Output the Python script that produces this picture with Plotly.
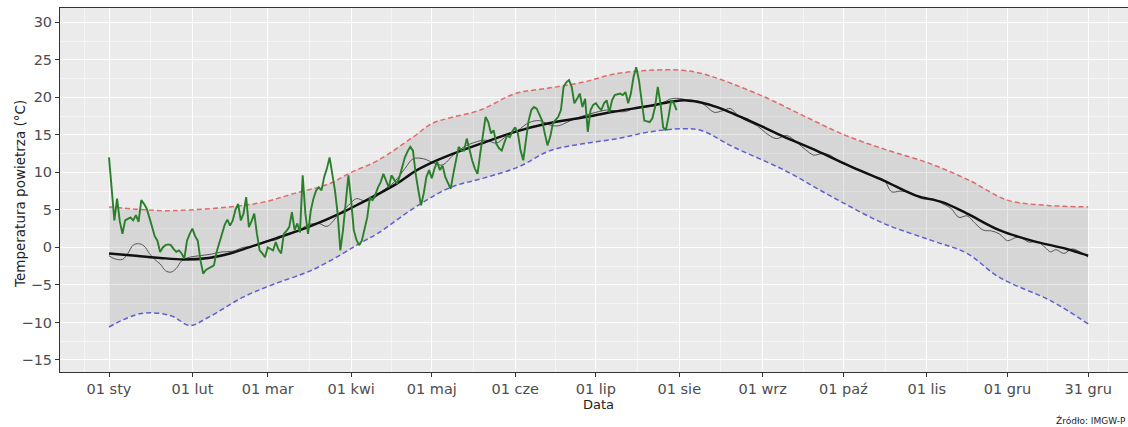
import pandas as pd
import plotly.graph_objects as go

YEAR_START = pd.Timestamp("2025-01-01")

# ---- data (day index from 1 Jan, value in °C) ----
green_days = list(range(0, 212))
green_vals = [12.0, 7.5, 3.6, 6.5, 3.5, 1.8, 3.6, 3.8, 4.0, 3.6, 4.3, 3.4, 6.3, 5.8, 5.2, 4.0, 2.7, 1.5, 0.9, -0.6,
              0.0, 0.3, 0.4, 0.3, -0.2, -0.6, -0.4, -0.8, -1.5, 0.9, 1.8, 2.5, 1.5, 0.9, -1.7, -3.5, -3.0, -2.8, -2.6, -2.4,
              -0.6, 0.8, 1.8, 3.0, 3.7, 2.9, 3.6, 5.0, 5.8, 3.6, 4.5, 6.7, 2.7, 3.5, 4.5, 1.8, -0.4, -0.8, -1.3, 0.0,
              -0.2, -0.4, 0.7, -0.3, -0.8, 1.8, 2.2, 2.7, 4.7, 2.3, 3.2, 2.0, 9.6, 4.5, 1.8, 4.9, 6.5, 7.6, 8.0, 7.6,
              9.4, 10.5, 12.0, 9.8, 7.6, 4.5, -0.4, 2.3, 6.3, 9.6, 6.3, 2.3, 1.0, 0.3, 0.9, 2.5, 4.0, 6.7, 6.3, 7.0,
              8.0, 8.7, 9.8, 8.9, 8.0, 9.6, 9.0, 8.5, 9.4, 10.7, 12.0, 12.8, 13.4, 12.9, 9.8, 7.6, 5.6, 7.2, 9.4, 10.3,
              9.2, 10.5, 11.4, 10.3, 10.9, 9.4, 8.5, 7.8, 9.8, 11.6, 13.4, 12.9, 12.9, 14.5, 12.9, 11.6, 10.5, 9.8, 12.5, 15.2,
              17.4, 16.7, 15.2, 15.6, 13.8, 13.2, 12.9, 14.0, 14.9, 14.7, 15.5, 16.0, 15.2, 12.9, 11.6, 14.3, 16.9, 18.3, 18.7, 18.5,
              17.6, 16.9, 15.2, 13.6, 14.7, 16.5, 17.0, 17.4, 18.3, 21.4, 22.0, 22.3, 21.4, 19.2, 19.8, 20.5, 18.7, 19.8, 15.4, 18.3,
              19.0, 19.2, 18.7, 18.3, 19.2, 19.6, 18.0, 19.6, 20.3, 20.4, 20.5, 20.3, 20.7, 19.2, 20.5, 22.7, 24.0, 22.3, 19.6, 16.9,
              16.8, 16.7, 17.2, 18.7, 21.4, 19.2, 16.0, 15.6, 17.4, 19.6, 19.2, 18.3]

grey_days = [0, 2, 5, 7, 9, 11, 13, 15, 17, 19, 21, 23, 25, 27, 30, 34, 38, 42, 46, 50, 54, 58, 62, 66, 70, 74, 78, 81,
             85, 89, 92, 95, 98, 102, 106, 110, 113, 117, 121, 124, 128, 132, 136, 140, 144, 148, 152, 156, 160, 164,
             167, 171, 176, 181, 185, 189, 192, 195, 199, 203, 206, 209, 213, 216, 219, 222, 225, 228, 231, 234, 238,
             241, 244, 248, 252, 256, 259, 262, 265, 268, 272, 276, 280, 284, 288, 291, 294, 298, 302, 306, 310, 313,
             316, 319, 322, 325, 328, 331, 334, 337, 339, 342, 345, 348, 350, 352, 355, 358, 361, 364]
grey_vals = [-1.1, -1.5, -1.6, -0.8, 0.3, 0.5, 0.2, -0.8, -1.6, -2.2, -3.1, -3.3, -2.8, -1.8, -1.3, -1.1, -0.9, -0.6,
             -0.5, 0.0, 0.2, 0.8, 1.0, 1.8, 2.2, 3.0, 3.2, 2.8, 4.2, 5.6, 6.5, 6.2, 6.4, 7.6, 8.7, 10.5, 11.8, 11.8,
             11.2, 11.0, 12.3, 13.4, 14.0, 14.3, 13.9, 14.9, 15.6, 16.6, 16.9, 16.3, 16.2, 16.8, 17.5, 18.0, 18.3,
             18.1, 18.1, 18.5, 18.7, 18.9, 19.3, 19.8, 19.8, 19.4, 19.5, 18.8, 18.0, 18.2, 18.5, 17.5, 16.7, 16.2,
             15.3, 14.5, 14.9, 13.9, 13.0, 12.3, 12.5, 12.3, 11.3, 10.8, 10.2, 9.5, 9.0, 7.4, 7.5, 7.3, 6.5, 6.5,
             5.8, 5.2, 4.0, 4.2, 3.2, 2.3, 2.2, 1.8, 0.9, 1.3, 1.3, 0.7, 0.8, 0.0, -0.6, -0.3, -0.8, -0.2, -0.6, -1.3]

mean_days = [0, 10, 19, 28, 37, 45, 52, 62, 74, 87, 93, 100, 107, 114, 120, 128, 138, 151, 163, 176, 188, 200,
             209, 214, 220, 226, 238, 250, 263, 275, 288, 300, 310, 319, 331, 343, 356, 364]
mean_vals = [-0.8, -1.1, -1.4, -1.6, -1.4, -0.8, 0.0, 1.2, 2.7, 4.7, 5.8, 7.1, 8.5, 10.2, 11.3, 12.5, 13.8, 15.4,
             16.5, 17.3, 18.1, 18.8, 19.4, 19.6, 19.3, 18.7, 16.9, 14.9, 12.9, 10.9, 8.9, 6.9, 6.0, 4.5, 2.3, 0.9,
             -0.2, -1.1]

max_days = [0, 10, 20, 30, 45, 57, 69, 82, 90, 100, 113, 120, 126, 138, 151, 163, 176, 188, 201, 213, 220, 228,
            244, 259, 274, 289, 305, 320, 334, 349, 364]
max_vals = [5.4, 5.1, 4.9, 5.0, 5.4, 6.0, 7.2, 8.5, 10.0, 11.6, 14.7, 16.5, 17.2, 18.3, 20.5, 21.2, 22.0, 23.1,
            23.6, 23.6, 23.2, 22.3, 20.0, 17.4, 14.9, 13.0, 11.2, 8.9, 6.3, 5.6, 5.4]

min_days = [0, 12, 23, 30, 37, 50, 62, 75, 87, 93, 100, 114, 127, 139, 152, 164, 176, 189, 201, 213, 220, 232,
            251, 269, 288, 306, 319, 331, 350, 364]
min_vals = [-10.6, -8.8, -9.1, -10.4, -9.3, -6.6, -4.8, -3.1, -0.8, 0.5, 1.9, 5.4, 8.0, 9.2, 10.7, 12.9, 13.8,
            14.5, 15.4, 15.8, 15.6, 13.4, 10.3, 6.7, 3.2, 0.9, -0.8, -4.0, -7.1, -10.2]

tick_dates = ["2025-01-01", "2025-02-01", "2025-03-01", "2025-04-01", "2025-05-01", "2025-06-01", "2025-07-01",
              "2025-08-01", "2025-09-01", "2025-10-01", "2025-11-01", "2025-12-01", "2025-12-31"]
tick_labels = ["01 sty", "01 lut", "01 mar", "01 kwi", "01 maj", "01 cze", "01 lip", "01 sie", "01 wrz",
               "01 paź", "01 lis", "01 gru", "31 gru"]


def to_dates(days):
    return [YEAR_START + pd.Timedelta(days=d) for d in days]


fig = go.Figure()

# ribbon between min and max
fig.add_trace(go.Scatter(x=to_dates(min_days), y=min_vals, mode="lines", line=dict(width=0, shape="spline"),
                         hoverinfo="skip", showlegend=False))
fig.add_trace(go.Scatter(x=to_dates(max_days), y=max_vals, mode="lines", line=dict(width=0, shape="spline"),
                         fill="tonexty", fillcolor="rgba(130,130,130,0.19)", hoverinfo="skip", showlegend=False))
# dashed bounds
fig.add_trace(go.Scatter(x=to_dates(max_days), y=max_vals, mode="lines",
                         line=dict(color="#E06A6A", width=1.5, dash="5px,3px", shape="spline"), showlegend=False))
fig.add_trace(go.Scatter(x=to_dates(min_days), y=min_vals, mode="lines",
                         line=dict(color="#5F5FD0", width=1.5, dash="5px,3px", shape="spline"), showlegend=False))
# daily climatology
fig.add_trace(go.Scatter(x=to_dates(grey_days), y=grey_vals, mode="lines",
                         line=dict(color="#555555", width=1, shape="spline"), showlegend=False))
# smoothed mean
fig.add_trace(go.Scatter(x=to_dates(mean_days), y=mean_vals, mode="lines",
                         line=dict(color="#111111", width=2.5, shape="spline"), showlegend=False))
# current year
fig.add_trace(go.Scatter(x=to_dates(green_days), y=green_vals, mode="lines",
                         line=dict(color="#2A7F2A", width=1.9), showlegend=False))

W, H = 1128, 427
ml, mt, mb = 60, 8, 55
px_per_day = 2.69
x0 = YEAR_START - pd.Timedelta(days=(109 - ml) / px_per_day)
x1 = YEAR_START + pd.Timedelta(days=(W - 109) / px_per_day)

tick_ts = [pd.Timestamp(t) for t in tick_dates]
minor_ts = [tick_ts[i] + (tick_ts[i + 1] - tick_ts[i]) / 2 for i in range(len(tick_ts) - 1)]
minor_ts = [x0 + (tick_ts[0] - x0) / 2] + minor_ts + [tick_ts[-1] + (x1 - tick_ts[-1]) / 2]

fig.update_layout(
    width=W, height=H,
    margin=dict(l=ml, r=0, t=mt, b=mb),
    paper_bgcolor="white",
    plot_bgcolor="#EBEBEB",
    font=dict(family="DejaVu Sans", color="#4D4D4D"),
    xaxis=dict(
        range=[x0, x1], tickmode="array", tickvals=tick_ts, ticktext=tick_labels,
        showgrid=True, gridcolor="white", gridwidth=1.1, zeroline=False,
        ticks="outside", ticklen=4, tickcolor="#333333", tickfont=dict(size=14.5, color="#4D4D4D"),
        showline=True, linecolor="#333333", linewidth=1, mirror=True,
        minor=dict(tickmode="array", tickvals=minor_ts, showgrid=True, gridcolor="#F5F5F5", gridwidth=0.6, ticks=""),
    ),
    yaxis=dict(
        range=[-16.6, 31.9], tickmode="array", tickvals=[-15, -10, -5, 0, 5, 10, 15, 20, 25, 30],
        showgrid=True, gridcolor="white", gridwidth=1.1, zeroline=False,
        ticks="outside", ticklen=4, tickcolor="#333333", tickfont=dict(size=14.5, color="#4D4D4D"),
        showline=True, linecolor="#333333", linewidth=1, mirror=False,
        minor=dict(tickmode="array", tickvals=[-12.5, -7.5, -2.5, 2.5, 7.5, 12.5, 17.5, 22.5, 27.5],
                   showgrid=True, gridcolor="#F5F5F5", gridwidth=0.6, ticks=""),
    ),
    annotations=[
        dict(text="Temperatura powietrza (°C)", textangle=-90, xref="paper", yref="paper",
             x=(20 - ml) / (W - ml), y=(372 - 194) / (H - mt - mb), xanchor="center", yanchor="middle",
             showarrow=False, font=dict(size=13.5, color="#222222")),
        dict(text="Data", xref="paper", yref="paper", x=(598 - ml) / (W - ml),
             y=(H - mb - 405) / (H - mt - mb), xanchor="center", yanchor="middle", showarrow=False,
             font=dict(size=13, color="#222222")),
        dict(text="Źródło: IMGW-P", xref="paper", yref="paper", x=1.0,
             y=(H - mb - 420) / (H - mt - mb), xanchor="right", yanchor="middle", showarrow=False,
             font=dict(size=9, color="#222222")),
    ],
)

fig.write_html("out.html", config={"displayModeBar": False},
               post_script="document.body.style.margin='0';document.body.style.padding='0';")
